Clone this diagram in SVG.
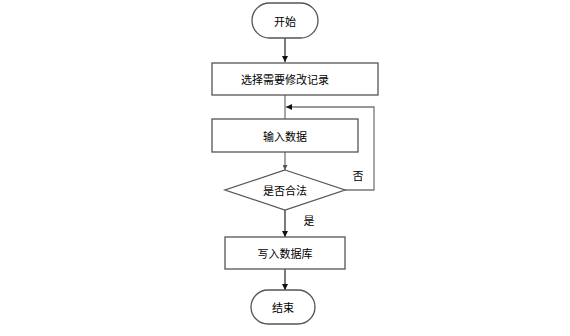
<svg xmlns="http://www.w3.org/2000/svg" width="570" height="336" viewBox="0 0 570 336">
<style>
.n{fill:#fff;stroke:#555;stroke-width:1.3}
.t{font-family:"Noto Sans CJK SC","Liberation Sans",sans-serif;font-size:11px;fill:#000;text-anchor:middle;dominant-baseline:central}
.c{fill:none;stroke:#333;stroke-width:1.3}
.g{fill:none;stroke:#777;stroke-width:1.3}
</style>
<defs>
<marker id="a" viewBox="0 0 10 10" refX="10" refY="5" markerWidth="6" markerHeight="6" orient="auto" markerUnits="userSpaceOnUse"><path d="M0,0L10,5L0,10z" fill="#111"/></marker>
<marker id="b" viewBox="0 0 10 10" refX="10" refY="5" markerWidth="5" markerHeight="5" orient="auto" markerUnits="userSpaceOnUse"><path d="M0,0L10,5L0,10z" fill="#555"/></marker>
</defs>
<rect width="570" height="336" fill="#fff"/>
<g id="connectors">
<path class="c" d="M285,38V62" marker-end="url(#a)"/>
<path class="g" d="M285,95V119"/>
<path class="g" d="M345,190H374V107H286" marker-end="url(#a)"/>
<path class="g" d="M285,152V170" marker-end="url(#b)"/>
<path class="c" d="M285,210V237" marker-end="url(#a)"/>
<path class="c" d="M285,269V290" marker-end="url(#a)"/>
<text class="t" x="358" y="175">否</text>
<text class="t" x="309" y="220">是</text>
</g>
<g id="start"><rect class="n" x="252" y="3" width="66" height="35" rx="17.5"/><text class="t" x="285" y="20.5">开始</text></g>
<g id="select"><rect class="n" x="212" y="63" width="166" height="32"/><text class="t" x="285" y="79">选择需要修改记录</text></g>
<g id="input"><rect class="n" x="212" y="119" width="146" height="33"/><text class="t" x="285" y="135.5">输入数据</text></g>
<g id="check"><path class="n" d="M285,170L345,190L285,210L225,190Z"/><text class="t" x="285" y="190">是否合法</text></g>
<g id="write"><rect class="n" x="225" y="237" width="120" height="32"/><text class="t" x="285" y="253">写入数据库</text></g>
<g id="end"><rect class="n" x="251" y="290" width="64" height="34" rx="17"/><text class="t" x="283" y="307">结束</text></g>
</svg>
